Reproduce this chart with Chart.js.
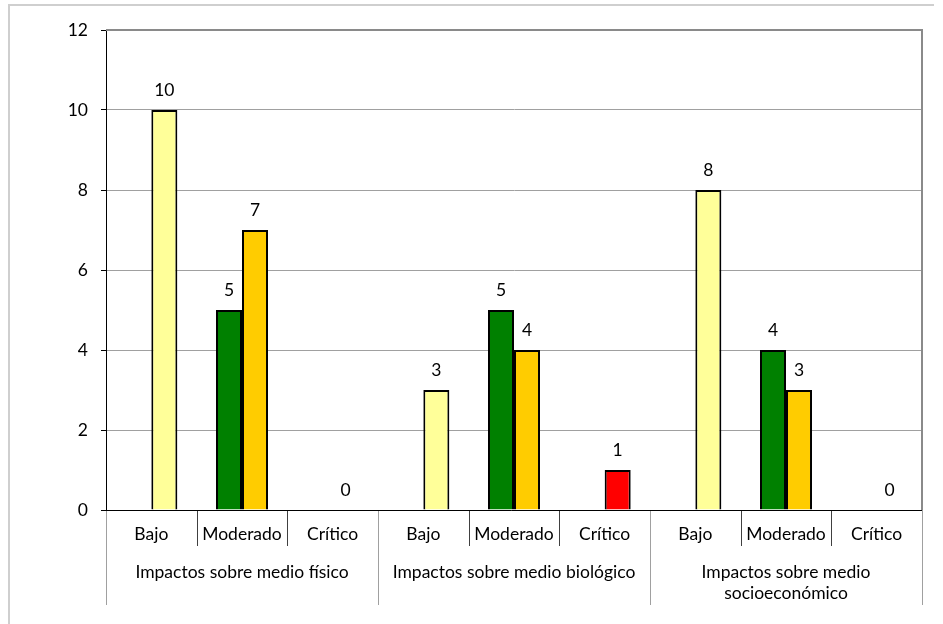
<!DOCTYPE html>
<html>
<head>
<meta charset="utf-8">
<script src="https://cdn.jsdelivr.net/npm/chart.js@4/dist/chart.umd.min.js"></script>
<style>
  html, body { margin: 0; padding: 0; background: #fff; }
  #wrap { width: 943px; height: 624px; position: relative; }
</style>
</head>
<body>
<div id="wrap"><canvas id="impactChart"></canvas></div>
<script>
// Data
const groupLabels = [
  ["Impactos sobre medio físico"],
  ["Impactos sobre medio biológico"],
  ["Impactos sobre medio", "socioeconómico"],
];
const categories = [
  "Bajo", "Moderado", "Crítico",
  "Bajo", "Moderado", "Crítico",
  "Bajo", "Moderado", "Crítico",
];
const leftValues = [null, 5, null, null, 5, null, null, 4, null];
const rightValues = [10, 7, 0, 3, 4, 1, 8, 3, 0];
const yTicks = [0, 2, 4, 6, 8, 10, 12];

const FONT = "Lato, 'Open Sans', sans-serif";
const LABEL_SIZE = 17.5;
const levelColors = { Bajo: "#ffff99", Moderado: "#ffcc00", "Crítico": "#ff0000" };

// value labels above bars
const valueLabels = {
  id: "valueLabels",
  afterDatasetsDraw(chart) {
    const ctx = chart.ctx;
    ctx.save();
    ctx.font = LABEL_SIZE + "px " + FONT;
    ctx.fillStyle = "#000";
    ctx.textAlign = "center";
    ctx.textBaseline = "middle";
    chart.data.datasets.forEach((ds, di) => {
      chart.getDatasetMeta(di).data.forEach((bar, i) => {
        const v = ds.data[i];
        if (v === null || v === undefined) return;
        ctx.fillText(String(v), bar.x, bar.y - 20);
      });
    });
    ctx.restore();
  },
};

// frame, x axis with two label levels
const frameAndAxis = {
  id: "frameAndAxis",
  beforeDraw(chart) {
    const ctx = chart.ctx;
    ctx.save();
    ctx.strokeStyle = "#cfcfcf";
    ctx.lineWidth = 2;
    ctx.beginPath();
    ctx.moveTo(9, 624);
    ctx.lineTo(9, 5);
    ctx.lineTo(934, 5);
    ctx.stroke();
    ctx.restore();
  },
  afterDraw(chart) {
    const { ctx, chartArea: a } = chart;
    const n = categories.length;
    const w = (a.right - a.left) / n;
    ctx.save();
    // plot border top/right
    ctx.strokeStyle = "#8a8a8a";
    ctx.lineWidth = 2;
    ctx.beginPath();
    ctx.moveTo(a.left, a.top);
    ctx.lineTo(a.right, a.top);
    ctx.lineTo(a.right, a.bottom);
    ctx.stroke();

    // separators
    for (let i = 0; i <= n; i++) {
      const x = Math.round(a.left + i * w) + 0.5;
      ctx.lineWidth = 1;
      ctx.beginPath();
      if (i % 3 === 0) {
        ctx.strokeStyle = "#a0a0a0";
        ctx.moveTo(x, a.bottom);
        ctx.lineTo(x, 605);
      } else {
        ctx.strokeStyle = "#404040";
        ctx.moveTo(x, a.bottom);
        ctx.lineTo(x, 546);
      }
      ctx.stroke();
    }

    // x axis line
    ctx.strokeStyle = "#000";
    ctx.lineWidth = 1;
    ctx.beginPath();
    ctx.moveTo(a.left - 5, Math.round(a.bottom) + 0.5);
    ctx.lineTo(a.right, Math.round(a.bottom) + 0.5);
    ctx.stroke();

    // labels
    ctx.fillStyle = "#000";
    ctx.textAlign = "center";
    ctx.textBaseline = "middle";
    ctx.font = LABEL_SIZE + "px " + FONT;
    categories.forEach((c, i) => {
      ctx.fillText(c, a.left + (i + 0.5) * w, 534);
    });
    groupLabels.forEach((lines, g) => {
      const cx = a.left + (g * 3 + 1.5) * w;
      lines.forEach((t, k) => ctx.fillText(t, cx, 572 + k * 21));
    });
    ctx.restore();
  },
};

const ctx = document.getElementById("impactChart").getContext("2d");
new Chart(ctx, {
  type: "bar",
  data: {
    labels: categories,
    datasets: [
      {
        label: "Moderado",
        data: leftValues,
        backgroundColor: "#008000",
        borderColor: "#000",
        borderWidth: 2,
      },
      {
        label: "Valor",
        data: rightValues,
        backgroundColor: categories.map((c) => levelColors[c]),
        borderColor: "#000",
        borderWidth: 2,
      },
    ],
  },
  options: {
    responsive: true,
    maintainAspectRatio: false,
    animation: false,
    datasets: {
      bar: {
        barPercentage: 1,
        categoryPercentage: 0.574,
        skipNull: false,
      },
    },
    layout: {
      padding: { left: 0, top: 30, right: 21, bottom: 114 },
    },
    scales: {
      x: {
        display: false,
      },
      y: {
        min: 0,
        max: 12,
        afterBuildTicks: (scale) => {
          scale.ticks = yTicks.map((v) => ({ value: v }));
        },
        afterFit: (scale) => {
          scale.width = 106;
        },
        ticks: {
          color: "#000",
          padding: 13,
          font: { family: FONT, size: LABEL_SIZE },
        },
        grid: {
          color: "#a0a0a0",
          tickColor: "#000",
          tickLength: 5,
          lineWidth: 1,
        },
        border: { color: "#000", width: 1 },
      },
    },
    plugins: {
      legend: { display: false },
      tooltip: { enabled: false },
    },
  },
  plugins: [frameAndAxis, valueLabels],
});
</script>
</body>
</html>
